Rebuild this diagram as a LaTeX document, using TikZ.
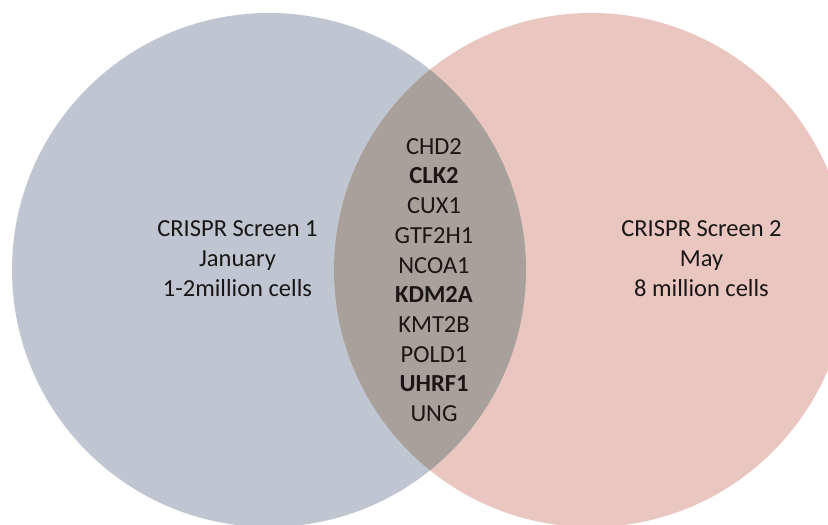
\documentclass[tikz,border=0pt]{standalone}
\usepackage{fontspec}
\setmainfont{Carlito}
\definecolor{screenone}{RGB}{191,198,210}
\definecolor{screentwo}{RGB}{233,198,191}
\definecolor{overlapfill}{RGB}{168,160,155}
\definecolor{labeltext}{RGB}{26,22,22}

\begin{document}
\begin{tikzpicture}[x=1pt, y=-1pt]

\useasboundingbox (0,0) rectangle (828,525);
\fill [white] (0,0) rectangle (828,525);
\clip (0,0) rectangle (828,525);

\fill [screenone] (269,270) circle [radius=257pt];
\fill [screentwo] (591,270) circle [radius=257pt];

\begin{scope}
\clip (269,270) circle [radius=257pt];
\fill [overlapfill] (591,270) circle [radius=257pt];
\end{scope}



\node [text=labeltext, align=center, inner sep=0pt,
font={\fontsize{24.5}{30}\selectfont}] (screen1)
 at (237.5, 259) {CRISPR Screen 1\\January\\1-2million cells};

\node [text=labeltext, align=center, inner sep=0pt,
font={\fontsize{24.5}{30}\selectfont}] (screen2)
 at (701.5, 259) {CRISPR Screen 2\\May\\8 million cells};

\node [text=labeltext, align=center, inner sep=0pt,
font={\fontsize{24.5}{29.7}\selectfont}] (genes)
 at (434, 280) {
CHD2\\ \textbf{CLK2}\\ CUX1\\ GTF2H1\\ NCOA1\\
\textbf{KDM2A}\\ KMT2B\\ POLD1\\ \textbf{UHRF1}\\ UNG
};

\end{tikzpicture}
\end{document}
